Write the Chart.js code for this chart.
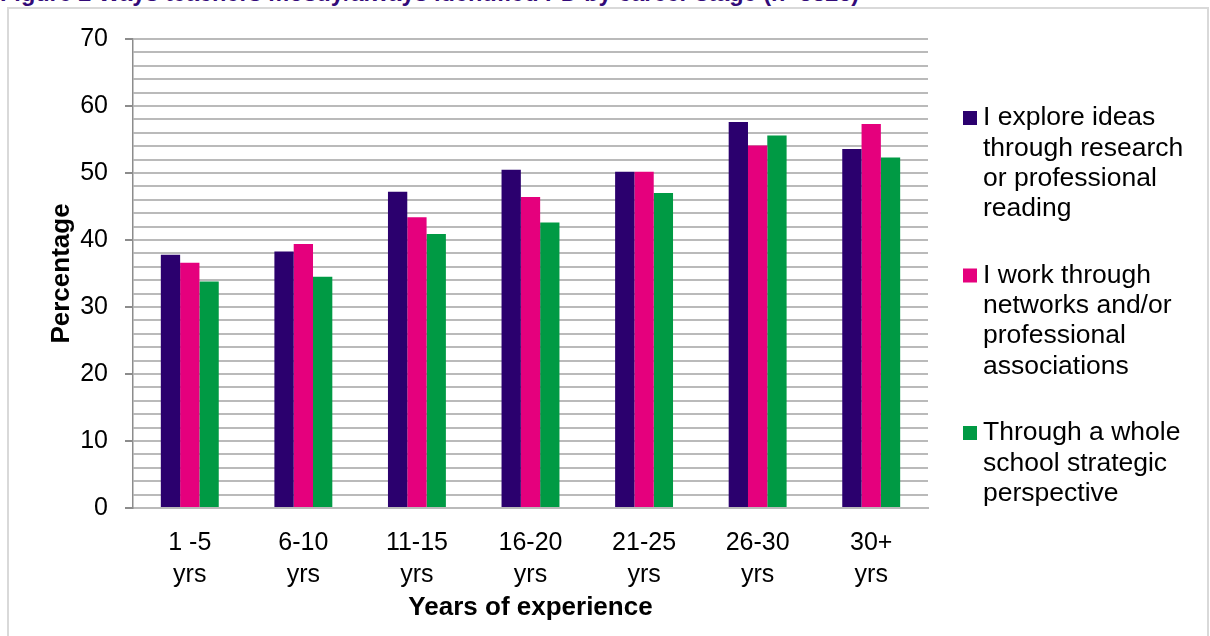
<!DOCTYPE html>
<html lang="en">
<head>
  <meta charset="UTF-8">
  <title>Ways teachers identified PD by career stage</title>
  <script src="https://cdn.jsdelivr.net/npm/chart.js"></script>
  <style>
    body {
      margin: 0;
      width: 1210px;
      height: 636px;
      overflow: hidden;
      background: #fff;
      font-family: "Liberation Sans", Arial, sans-serif;
      position: relative;
    }
    .fig-title {
      position: absolute;
      left: 0;
      top: -18px;
      font-size: 23.5px;
      line-height: 1;
      font-weight: bold;
      color: #330a78;
      white-space: nowrap;
    }
    .frame {
      position: absolute;
      left: 7px;
      top: 7px;
      width: 1198px;
      height: 700px;
      border: 2px solid #d9d9d9;
    }
    #chart {
      position: absolute;
      left: 0;
      top: 0;
    }
  </style>
</head>
<body>
  <div class="fig-title">Figure 2 Ways teachers mostly/always identified PD by career stage (n=3826)</div>
  <div class="frame"></div>
  <canvas id="chart" width="1210" height="636"></canvas>

  <script>
    // Data
    const categories = [['1 -5', 'yrs'], ['6-10', 'yrs'], ['11-15', 'yrs'], ['16-20', 'yrs'],
                        ['21-25', 'yrs'], ['26-30', 'yrs'], ['30+', 'yrs']];
    const researchValues = [37.8, 38.3, 47.2, 50.5, 50.2, 57.6, 53.6];
    const networkValues = [36.6, 39.4, 43.4, 46.4, 50.2, 54.1, 57.3];
    const wholeSchoolValues = [33.8, 34.5, 40.9, 42.6, 47.0, 55.6, 52.3];

    const seriesNames = [
      ['I explore ideas', 'through research', 'or professional', 'reading'],
      ['I work through', 'networks and/or', 'professional', 'associations'],
      ['Through a whole', 'school strategic', 'perspective']
    ];
    const seriesColors = ['#2b006e', '#e5007d', '#009a44'];

    const gridColor = '#bababa';
    const textFont = '"Liberation Sans", Arial, sans-serif';

    // Legend drawn by hand so the labels can wrap like the original
    const sideLegend = {
      id: 'sideLegend',
      afterDraw(chart) {
        const ctx = chart.ctx;
        const area = chart.chartArea;
        const boxX = area.right + 35;
        const textX = area.right + 55;
        const lineGap = 30.3;
        const entryGap = 157.5;
        ctx.save();
        ctx.font = '26.5px ' + textFont;
        ctx.textBaseline = 'middle';
        chart.data.datasets.forEach((ds, i) => {
          const y0 = 118 + i * entryGap;
          ctx.fillStyle = ds.backgroundColor;
          ctx.fillRect(boxX, y0 - 7, 14, 14);
          ctx.fillStyle = '#000';
          ds.label.forEach((line, j) => {
            ctx.fillText(line, textX, y0 + j * lineGap);
          });
        });
        ctx.restore();
      }
    };

    const datasets = [researchValues, networkValues, wholeSchoolValues].map((vals, i) => ({
      label: seriesNames[i],
      data: vals,
      backgroundColor: seriesColors[i],
      categoryPercentage: 0.51,
      barPercentage: 1.0
    }));

    new Chart(document.getElementById('chart'), {
      type: 'bar',
      data: {
        labels: categories,
        datasets: datasets
      },
      plugins: [sideLegend],
      options: {
        responsive: false,
        animation: false,
        layout: {
          padding: { left: 0, top: 39, right: 282, bottom: 0 }
        },
        plugins: {
          legend: { display: false },
          tooltip: { enabled: false }
        },
        scales: {
          x: {
            grid: { display: false },
            border: { color: gridColor, width: 2 },
            ticks: {
              color: '#000',
              padding: 11,
              maxRotation: 0,
              autoSkip: false,
              font: { family: textFont, size: 25, lineHeight: 1.28 }
            },
            title: {
              display: true,
              text: 'Years of experience',
              color: '#000',
              padding: { top: 0, bottom: 13 },
              font: { family: textFont, size: 26, weight: 'bold', lineHeight: 1.2 }
            },
            afterFit(scale) { scale.height = 128; }
          },
          y: {
            min: 0,
            max: 70,
            grid: {
              color: gridColor,
              lineWidth: 2,
              tickLength: 8,
              tickColor: ctx => (ctx.tick && ctx.tick.value % 10 === 0) ? '#8c8c8c' : 'rgba(0,0,0,0)'
            },
            border: { color: '#8c8c8c', width: 1.5 },
            ticks: {
              stepSize: 2,
              color: '#000',
              padding: 17,
              autoSkip: false,
              font: { family: textFont, size: 25 },
              callback: v => (v % 10 === 0 ? v : '')
            },
            title: {
              display: true,
              text: 'Percentage',
              color: '#000',
              padding: { top: 46, bottom: 0 },
              font: { family: textFont, size: 26, weight: 'bold', lineHeight: 1.2 }
            },
            afterFit(scale) { scale.width = 133; }
          }
        }
      }
    });
  </script>
</body>
</html>
